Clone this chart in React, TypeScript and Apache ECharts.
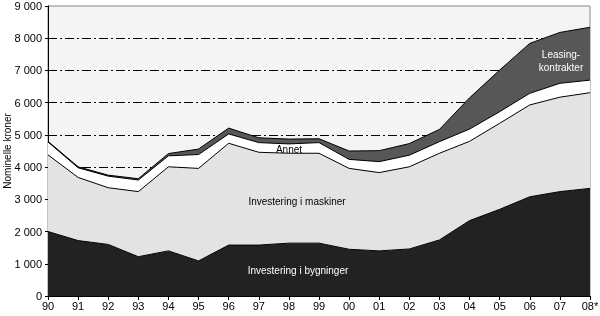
import React, { useEffect, useRef } from "react";
import * as echarts from "echarts";

const years = ["90", "91", "92", "93", "94", "95", "96", "97", "98", "99", "00", "01", "02", "03", "04", "05", "06", "07", "08*"];
const bygninger = [2000, 1720, 1600, 1220, 1400, 1090, 1580, 1580, 1640, 1640, 1450, 1400, 1460, 1740, 2340, 2690, 3080, 3240, 3340];
const maskiner = [2380, 1960, 1760, 2020, 2610, 2870, 3160, 2880, 2790, 2790, 2510, 2430, 2550, 2690, 2460, 2670, 2850, 2930, 2970];
const annet = [400, 300, 360, 360, 340, 430, 290, 300, 290, 330, 280, 340, 360, 360, 380, 360, 360, 430, 390];
const leasing = [20, 30, 30, 40, 70, 170, 180, 150, 150, 120, 260, 340, 360, 380, 970, 1290, 1550, 1580, 1640];

const yTicks = [0, 1000, 2000, 3000, 4000, 5000, 6000, 7000, 8000, 9000];
const yAxisName = "Nominelle kroner";

const FONT = "'Liberation Sans', Arial, sans-serif";

export default function App() {
  const ref = useRef<HTMLDivElement>(null);
  useEffect(() => {
    if (!ref.current) return;
    const chart = echarts.init(ref.current, undefined, { renderer: "svg" });
    const mk = (name: string, data: number[], color: string) => ({
      name,
      type: "line",
      stack: "total",
      data,
      symbol: "none",
      lineStyle: { color: "#000", width: 1 },
      areaStyle: { color, opacity: 1 },
    });
    const gridColors = yTicks.map((v) => (v === 9000 ? "rgba(0,0,0,0)" : "#000"));
    const txt = (text: string, x: number, y: number, fill: string) => ({
      type: "text",
      x,
      y,
      z: 100,
      zlevel: 0,
      style: {
        text,
        fill,
        fontSize: 10,
        fontFamily: FONT,
        align: "center",
        verticalAlign: "middle",
        lineHeight: 13,
      },
    });
    chart.setOption({
      animation: false,
      textStyle: { fontFamily: FONT },
      grid: {
        left: 48,
        right: 10,
        top: 6,
        bottom: 20,
        containLabel: false,
        outerBoundsMode: "none",
        show: true,
        backgroundColor: "#f4f4f4",
        borderColor: "#888",
        borderWidth: 1,
      },
      xAxis: {
        type: "category",
        data: years,
        boundaryGap: false,
        axisLine: { lineStyle: { color: "#000", width: 1 } },
        axisTick: { show: true, length: 4, lineStyle: { color: "#000" } },
        axisLabel: { color: "#000", fontSize: 11, margin: 4, fontFamily: FONT },
        splitLine: { show: false },
      },
      yAxis: {
        type: "value",
        min: 0,
        max: 9000,
        interval: 1000,
        name: yAxisName,
        nameLocation: "middle",
        nameGap: 36,
        nameMoveOverlap: false,
        nameRotate: 90,
        nameTextStyle: { color: "#000", fontSize: 10, fontFamily: FONT },
        axisLine: { show: true, lineStyle: { color: "#000", width: 1 } },
        axisTick: { show: true, length: 3, lineStyle: { color: "#000" } },
        axisLabel: {
          color: "#000",
          fontSize: 11,
          margin: 6,
          fontFamily: FONT,
          formatter: (v: number) => (v >= 1000 ? `${Math.floor(v / 1000)} ${String(v % 1000).padStart(3, "0")}` : String(v)),
        },
        splitLine: {
          show: true,
          lineStyle: { color: gridColors, width: 1, type: [9, 3, 2, 3] },
        },
      },
      series: [
        mk("Investering i bygninger", bygninger, "#222222"),
        mk("Investering i maskiner", maskiner, "#e3e3e3"),
        mk("Annet", annet, "#ffffff"),
        mk("Leasing-kontrakter", leasing, "#575757"),
      ],
      graphic: [
        txt("Annet", 289, 149, "#000"),
        txt("Investering i maskiner", 297, 201, "#000"),
        txt("Investering i bygninger", 298, 270, "#fff"),
        txt("Leasing-\nkontrakter", 561, 61, "#fff"),
      ],
    });
    return () => chart.dispose();
  }, []);
  return <div ref={ref} style={{ position: "fixed", left: 0, top: 0, width: 600, height: 316 }} />;
}
